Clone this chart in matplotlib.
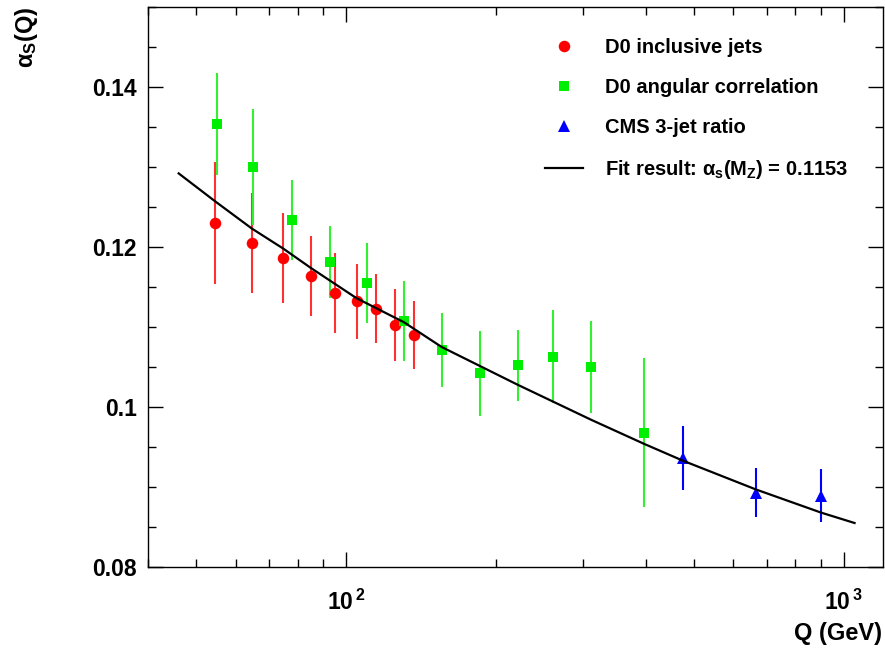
import numpy as np
import matplotlib; matplotlib.use("Agg"); import matplotlib.pyplot as plt
from matplotlib.ticker import FixedLocator, MultipleLocator, NullFormatter, FuncFormatter, LogLocator
from matplotlib.legend_handler import HandlerLine2D

plt.rcParams["font.family"] = ["Liberation Sans", "DejaVu Sans"]
plt.rcParams["font.weight"] = "bold"
plt.rcParams["mathtext.fontset"] = "custom"
plt.rcParams["mathtext.rm"] = "Liberation Sans:bold"
plt.rcParams["mathtext.it"] = "Liberation Sans:bold"
plt.rcParams["mathtext.bf"] = "Liberation Sans:bold"

# ---- data (Q in GeV) ----
red_q   = [54.6, 64.7, 74.8, 84.9, 94.9, 105.0, 114.8, 125.2, 136.9]
red_a   = [0.1230, 0.1205, 0.1186, 0.1164, 0.1143, 0.1132, 0.1123, 0.1103, 0.1090]
red_err = [0.0076, 0.0062, 0.0056, 0.0050, 0.0050, 0.0047, 0.0043, 0.0045, 0.0043]

green_q   = [55.1, 65.1, 77.8, 92.9, 110.3, 130.7, 155.7, 185.6, 221.2, 261.1, 311.2, 396.7]
green_a   = [0.1354, 0.1300, 0.1234, 0.1181, 0.1155, 0.1108, 0.1071, 0.1042, 0.1052, 0.1063, 0.1050, 0.0968]
green_err = [0.0064, 0.0073, 0.0050, 0.0045, 0.0050, 0.0050, 0.0046, 0.0053, 0.0044, 0.0058, 0.0058, 0.0093]

blue_q   = [474.9, 666.0, 900.8]
blue_a   = [0.0936, 0.0893, 0.0889]
blue_err = [0.0040, 0.0031, 0.0033]

fit_q = [46.1, 54.6, 64.7, 74.8, 84.9, 105.0, 130.7, 155.7, 221.0, 311.0, 397.0, 475.0, 666.0, 901.0, 1052.0]
fit_a = [0.1292, 0.1257, 0.1223, 0.1198, 0.1174, 0.1136, 0.1106, 0.1075, 0.1028, 0.0984, 0.0954,
         0.0933, 0.0897, 0.0868, 0.0855]

labels = ["D0 inclusive jets", "D0 angular correlation", "CMS 3-jet ratio",
          r"Fit result: $\alpha_{s}(M_{Z})$ = 0.1153"]

RED, GREEN, BLUE = "#ff0000", "#00ee00", "#0000ff"

fig = plt.figure(figsize=(8.85, 6.48), dpi=100)
ax = fig.add_axes([148 / 885, 81 / 648, 735 / 885, 560 / 648])

ax.errorbar(red_q, red_a, yerr=red_err, fmt="none", ecolor="#ff3030", elinewidth=1.5, capsize=0)
ax.errorbar(green_q, green_a, yerr=green_err, fmt="none", ecolor="#33f033", elinewidth=1.5, capsize=0)
ax.errorbar(blue_q, blue_a, yerr=blue_err, fmt="none", ecolor=BLUE, elinewidth=1.5, capsize=0)
hr, = ax.plot(red_q, red_a, "o", color=RED, ms=8.3, mew=0, label=labels[0])
hg, = ax.plot(green_q, green_a, "s", color=GREEN, ms=7.5, mew=0, label=labels[1])
hb, = ax.plot(blue_q, blue_a, "^", color=BLUE, ms=8, mew=0, label=labels[2])
hf, = ax.plot(fit_q, fit_a, "-", color="black", lw=1.6, label=labels[3])

ax.set_xscale("log")
ax.set_xlim(40, 1200)
ax.set_ylim(0.08, 0.15)

ax.xaxis.set_major_locator(FixedLocator([100, 1000]))
ax.xaxis.set_minor_locator(LogLocator(base=10, subs=np.arange(2, 10)))
ax.xaxis.set_major_formatter(FuncFormatter(lambda v, p: r"$10^{\,%d}$" % round(np.log10(v))))
ax.xaxis.set_minor_formatter(NullFormatter())
ax.yaxis.set_major_locator(MultipleLocator(0.02))
ax.yaxis.set_minor_locator(MultipleLocator(0.005))
ax.yaxis.set_major_formatter(FuncFormatter(lambda v, p: f"{v:g}"))

ax.tick_params(which="both", direction="in", top=True, right=True, width=1.0, labelsize=16.5)
ax.tick_params(which="major", length=11)
ax.tick_params(which="minor", length=5.5)
ax.tick_params(axis="x", which="major", pad=16)
ax.tick_params(axis="y", which="major", pad=8)
for s in ax.spines.values():
    s.set_linewidth(1.0)

fig.text(882 / 885, 0.004, "Q (GeV)", ha="right", va="bottom", fontsize=17)
fig.text(0.03, 0.99, r"$\alpha_{S}$(Q)", rotation=90, ha="center", va="top", fontsize=17)


class RightMarker(HandlerLine2D):
    # ROOT-style: marker sits at the right end of the entry box
    def get_xdata(self, legend, xdescent, ydescent, width, height, fontsize):
        xd = np.array([-xdescent, -xdescent + width])
        return xd, np.array([-xdescent + width - 1.0])


leg = ax.legend(handles=[hr, hg, hb, hf], loc="upper left", frameon=False,
                bbox_to_anchor=(545 / 885, (648 - 38) / 648), bbox_transform=fig.transFigure,
                borderpad=0, borderaxespad=0, fontsize=14.5, handlelength=1.9,
                handletextpad=1.1, labelspacing=1.05, numpoints=1,
                handler_map={hr: RightMarker(), hg: RightMarker(), hb: RightMarker()})

fig.savefig("out.png", dpi=100)
